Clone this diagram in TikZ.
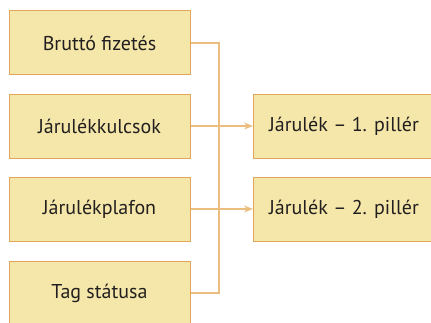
\documentclass[tikz,border=0pt]{standalone}
\usepackage{fontspec}
\setsansfont{PT Sans}
\usetikzlibrary{arrows.meta}
\definecolor{boxfill}{HTML}{F4E7A9}
\definecolor{boxedge}{HTML}{E2A65A}
\definecolor{linkline}{HTML}{EBBE80}
\definecolor{inktext}{HTML}{231F20}
\begin{document}
\begin{tikzpicture}[x=1pt,y=1pt,
  item/.style={draw=boxedge, fill=boxfill, line width=1pt, minimum width=181pt,
    minimum height=64pt, inner sep=0pt, text=inktext, font=\sffamily\fontsize{20}{24}\selectfont},
  link/.style={draw=linkline, line width=1.3pt}]
  \useasboundingbox (0,0) rectangle (431,322);
  \clip (0,0) rectangle (431,322);
  % inputs, top to bottom
  \foreach \y/\id/\name in {
    279/brutto/Bruttó fizetés,
    196/kulcs/Járulékkulcsok,
    113/plafon/Járulékplafon,
    29/tag/Tag státusa} {
    \node[item] (\id) at (99.5,\y) {\name};
  }
  % outputs
  \node[item] (pill1) at (344,196) {Járulék – 1. pillér};
  \node[item] (pill2) at (344,113) {Járulék – 2. pillér};
  % collecting line
  \coordinate (bus) at (219,161);
  \draw[link] (brutto.east) -| (bus) |- (tag.east);
  \draw[link, -{Stealth[length=9pt,width=7pt]}] (kulcs.east) -- (pill1.west);
  \draw[link, -{Stealth[length=9pt,width=7pt]}] (plafon.east) -- (pill2.west);
\end{tikzpicture}
\end{document}
